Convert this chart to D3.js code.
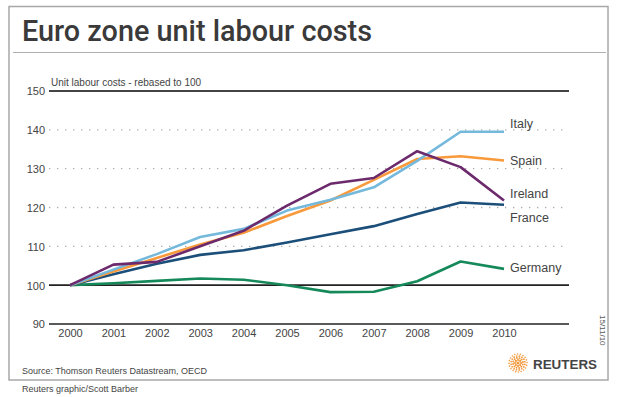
<!DOCTYPE html>
<html><head><meta charset="utf-8">
<script src="https://cdn.jsdelivr.net/npm/d3@7"></script>
<style>body{margin:0;background:#fff}svg{display:block}</style>
</head><body>
<script>
const years = [2000,2001,2002,2003,2004,2005,2006,2007,2008,2009,2010];
const italy   = [100,104.0,108.0,112.4,114.5,119.2,122.0,125.2,132.0,139.5,139.5];
const spain   = [100,103.5,107.0,110.5,113.5,117.8,121.8,127.1,132.5,133.2,132.1];
const ireland = [100,105.3,106.0,110.0,114.0,120.5,126.1,127.6,134.5,130.4,121.8];
const france  = [100,102.8,105.5,107.8,109.0,111.0,113.1,115.2,118.3,121.3,120.7];
const germany = [100,100.5,101.1,101.7,101.4,100.0,98.2,98.3,101.0,106.1,104.2];
const seriesNames = ["Italy","Spain","Ireland","France","Germany"];
const seriesColors = ["#74b9dc","#f89a3c","#6c2a6c","#1b4e79","#16895a"];
const yTicks = [90,100,110,120,130,140,150];
const solidTicks = [90,100,150];
const labelY = {Italy:124,Spain:161,Ireland:194,France:218,Germany:268};

const W=620,H=397;
const svg=d3.select("body").append("svg").attr("width",W).attr("height",H);
const F="'Liberation Sans', Arial, sans-serif";

// frame
svg.append("rect").attr("x",9).attr("y",6.5).attr("width",599).attr("height",373.5)
  .attr("fill","none").attr("stroke","#a8a8a8").attr("stroke-width",1.5);
svg.append("line").attr("x1",13).attr("x2",606).attr("y1",52.5).attr("y2",52.5)
  .attr("stroke","#b0b0b0").attr("stroke-width",1.2);

const title=svg.append("text").attr("x",22).attr("y",41).text("Euro zone unit labour costs")
  .attr("font-family","Roboto, 'Open Sans', sans-serif").attr("font-weight",500)
  .attr("font-size",29).attr("fill","#3a3a3a");
title.attr("textLength",350).attr("lengthAdjust","spacingAndGlyphs");

const x=d3.scaleLinear().domain([2000,2010]).range([70,504]);
const y=d3.scaleLinear().domain([90,150]).range([324,91]);

// grid
const g=svg.append("g");
yTicks.forEach(t=>{
  const solid=solidTicks.includes(t);
  g.append("line").attr("x1",49).attr("x2",569).attr("y1",y(t)).attr("y2",y(t))
    .attr("stroke",solid?(t===150?"#444":"#222"):"#aaa")
    .attr("stroke-width",solid?(t===150?2:1.6):1.3)
    .attr("stroke-dasharray",solid?null:"1.3,6.7");
});
// y axis labels
const yAxis=d3.axisLeft(y).tickValues(yTicks).tickSize(0).tickPadding(0);
const ya=svg.append("g").attr("transform","translate(45,0)").call(yAxis);
ya.select(".domain").remove();
ya.selectAll("text").attr("font-family",F).attr("font-size",11).attr("fill","#444").attr("dy","0.35em");

svg.append("text").attr("x",51).attr("y",86).text("Unit labour costs - rebased to 100")
  .attr("font-family",F).attr("font-size",10).attr("fill","#444");

// x axis labels
const xAxis=d3.axisBottom(x).tickValues(years).tickFormat(d3.format("d")).tickSize(0).tickPadding(0);
const xa=svg.append("g").attr("transform","translate(0,329)").call(xAxis);
xa.select(".domain").remove();
xa.selectAll("text").attr("font-family",F).attr("font-size",11).attr("fill","#444").attr("dy","0.71em");

// lines
const data=[italy,spain,ireland,france,germany];
const line=d3.line().x((d,i)=>x(years[i])).y(d=>y(d));
const order=[4,3,1,0,2];
order.forEach(k=>{
  svg.append("path").attr("d",line(data[k])).attr("fill","none")
    .attr("stroke",seriesColors[k]).attr("stroke-width",2.6).attr("stroke-linejoin","round");
});
seriesNames.forEach(n=>{
  svg.append("text").attr("x",510).attr("y",labelY[n]).attr("dy","0.35em").text(n)
    .attr("font-family",F).attr("font-size",12.5).attr("fill","#444");
});

// source
svg.append("text").attr("x",22).attr("y",374).text("Source: Thomson Reuters Datastream, OECD")
  .attr("font-family",F).attr("font-size",9).attr("fill","#444");
svg.append("text").attr("x",22).attr("y",392).text("Reuters graphic/Scott Barber")
  .attr("font-family",F).attr("font-size",9).attr("fill","#444");

// date
svg.append("text").attr("transform","translate(600,315) rotate(90)").text("15/11/10")
  .attr("font-family",F).attr("font-size",8).attr("fill","#555");

// logo
const lg=svg.append("g").attr("transform","translate(518,363)");
const rings=[[3,8],[5,12],[7,16],[9,20]];
rings.forEach(([r,n],ri)=>{
  for(let i=0;i<n;i++){
    const a=i/n*2*Math.PI+ri*0.3;
    lg.append("circle").attr("cx",r*Math.cos(a)).attr("cy",r*Math.sin(a)).attr("r",1.1-ri*0.1)
      .attr("fill","#f39a3f");
  }
});
lg.append("circle").attr("r",1.6).attr("fill","#f39a3f");
svg.append("text").attr("x",533).attr("y",369).text("REUTERS")
  .attr("font-family",F).attr("font-weight","bold").attr("font-size",13.5).attr("fill","#444")
  .attr("textLength",64).attr("lengthAdjust","spacingAndGlyphs");
</script>
</body></html>
